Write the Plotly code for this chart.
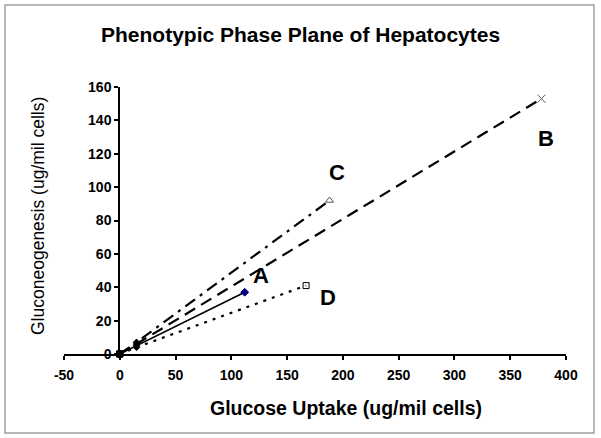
import plotly.graph_objects as go

# Data
series_names = ["A", "B", "C", "D"]
uptake_A = [0, 15, 112]
gluco_A = [0, 5, 37]
uptake_B = [0, 15, 378]
gluco_B = [0, 6, 153]
uptake_C = [0, 15, 188]
gluco_C = [0, 7, 92]
uptake_D = [0, 15, 167]
gluco_D = [0, 4, 41]
label_x = [127, 382, 195, 187]
label_y = [47, 129, 109, 34]

x_ticks = [-50, 0, 50, 100, 150, 200, 250, 300, 350, 400]
x_ticktext = ["-50", "0", "50", "100", "150", "200", "250", "300", "350", "400"]
y_ticks = [0, 20, 40, 60, 80, 100, 120, 140, 160]

W, H = 601, 438
ml, mr, mt, mb = 64, 35, 87, 84
pw, ph = W - ml - mr, H - mt - mb

def px2paper_x(px):
    return (px - ml) / pw

def px2paper_y(py):
    return (H - mb - py) / ph

fig = go.Figure()

styles = [
    dict(dash="solid", width=1.5, end_symbol="diamond", end_color="#000080", end_size=6),
    dict(dash="12px,7px", width=2.2, end_symbol="x-thin-open", end_color="#555555", end_size=8),
    dict(dash="12px,6px,3px,6px", width=2.2, end_symbol="triangle-up-open", end_color="#555555", end_size=7),
    dict(dash="3px,6px", width=2.2, end_symbol="square-open", end_color="#000000", end_size=6),
]
data = [(uptake_A, gluco_A), (uptake_B, gluco_B), (uptake_C, gluco_C), (uptake_D, gluco_D)]

for name, (xs, ys), st in zip(series_names, data, styles):
    fig.add_trace(go.Scatter(
        x=xs, y=ys, mode="lines+markers", name=name,
        line=dict(color="black", width=st["width"], dash=st["dash"]),
        marker=dict(
            symbol=["square", "diamond", st["end_symbol"]],
            color=["black", "black", st["end_color"]],
            size=[6, 5, st["end_size"]],
            line=dict(color=["black", "black", st["end_color"]], width=1),
            opacity=1,
        ),
        showlegend=False,
        cliponaxis=False,
        hoverinfo="skip",
    ))

for name, lx, ly in zip(series_names, label_x, label_y):
    fig.add_annotation(x=lx, y=ly, text=name, showarrow=False,
                       font=dict(family="Arial, Liberation Sans", size=22, color="black", weight="bold"))

tickfont = dict(family="Liberation Sans Narrow, Arial Narrow, Arial", size=14, color="black", weight="bold")

fig.update_layout(
    width=W, height=H,
    margin=dict(l=ml, r=mr, t=mt, b=mb),
    paper_bgcolor="white", plot_bgcolor="white",
    xaxis=dict(range=[-50, 400], tickvals=x_ticks, ticktext=x_ticktext,
               showgrid=False, zeroline=False,
               showline=True, linecolor="black", linewidth=2,
               ticks="outside", ticklen=4, tickwidth=1.5, tickcolor="black",
               tickfont=tickfont, ticklabelstandoff=3, fixedrange=True),
    yaxis=dict(range=[0, 160], tickvals=y_ticks, showgrid=False, zeroline=False,
               showline=True, linecolor="black", linewidth=1.5,
               ticks="outside", ticklen=4, tickwidth=1.5, tickcolor="black",
               tickfont=tickfont, anchor="free", position=px2paper_x(119),
               fixedrange=True),
)

# Titles
fig.add_annotation(xref="paper", yref="paper", x=px2paper_x(300), y=px2paper_y(35),
                   xanchor="center", yanchor="middle",
                   text="Phenotypic Phase Plane of Hepatocytes", showarrow=False,
                   font=dict(family="Arial, Liberation Sans", size=21, color="black", weight="bold"))
fig.add_annotation(xref="paper", yref="paper", x=px2paper_x(346), y=px2paper_y(408),
                   xanchor="center", yanchor="middle",
                   text="Glucose Uptake (ug/mil cells)", showarrow=False,
                   font=dict(family="Liberation Sans Narrow, Arial Narrow, Arial", size=19.5, color="black", weight="bold"))
fig.add_annotation(xref="paper", yref="paper", x=px2paper_x(38), y=px2paper_y(216),
                   xanchor="center", yanchor="middle",
                   text="Gluconeogenesis (ug/mil cells)", showarrow=False, textangle=-90,
                   font=dict(family="Arial, Liberation Sans", size=17.5, color="black"))

# Chart border
fig.add_shape(type="rect", xref="paper", yref="paper",
              x0=px2paper_x(5), x1=px2paper_x(594), y0=px2paper_y(433), y1=px2paper_y(5),
              line=dict(color="#a0a0a0", width=1.5), fillcolor="rgba(0,0,0,0)", layer="below")

fig.write_html("out.html", config={"displayModeBar": False},
               post_script="document.body.style.margin='0';document.body.style.overflow='hidden';")
